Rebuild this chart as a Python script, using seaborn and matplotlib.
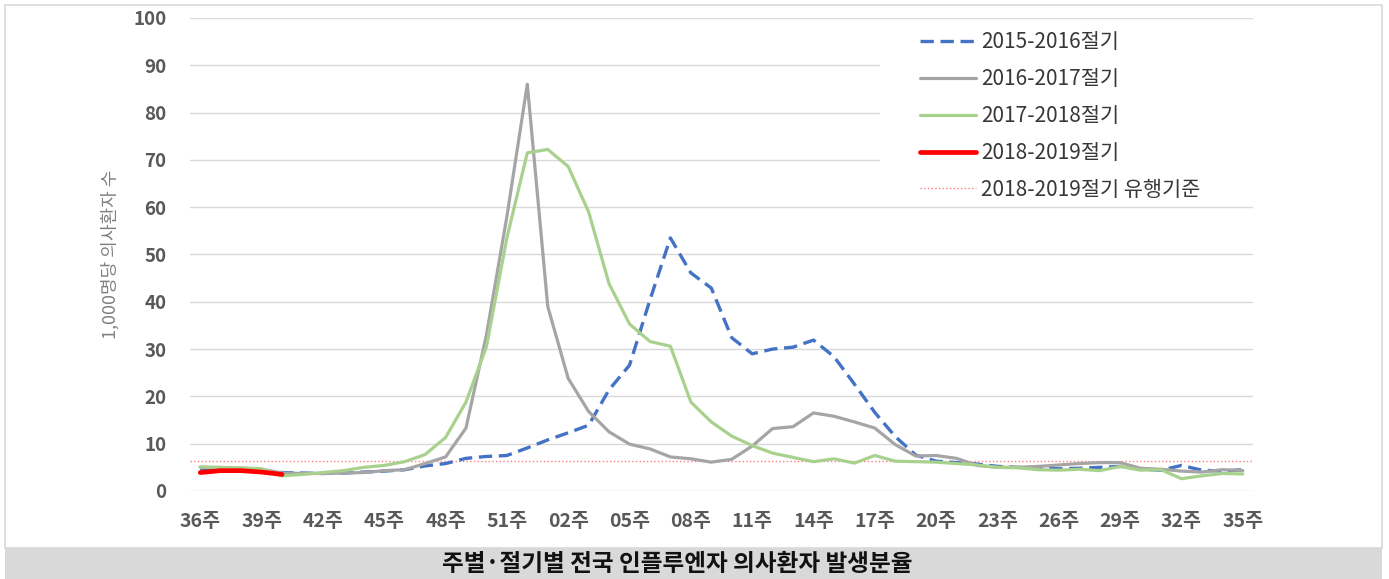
import numpy as np
import pandas as pd
import matplotlib
matplotlib.use('Agg')
import matplotlib.pyplot as plt
import seaborn as sns
from matplotlib.patches import Rectangle

# week labels: 36주 ... 52주, 01주 ... 35주
weeks = [f'{w:02d}주' for w in list(range(36, 53)) + list(range(1, 36))]

# 1,000명당 의사환자 수
s2015_2016 = [4.6, 4.5, 4.3, 4.1, 3.9, 3.8, 3.7, 3.8, 4.0, 4.2, 4.5, 5.3, 5.8, 6.9, 7.3, 7.5, 9.1,
              10.8, 12.3, 13.9, 21.4, 26.6, 40.4, 53.5, 46.1, 42.9, 32.4, 29.0, 30.0, 30.4, 31.9,
              28.4, 22.6, 16.6, 11.5, 7.6, 6.3, 6.0, 5.7, 5.2, 5.0, 4.8, 4.7, 4.8, 5.0, 5.2, 4.6,
              4.4, 5.4, 4.4, 4.2, 4.5]
s2016_2017 = [5.0, 4.9, 4.8, 4.6, 3.8, 3.7, 3.7, 3.8, 3.9, 4.3, 4.5, 5.8, 7.2, 13.3, 33.0, 58.0, 86.0,
              39.0, 23.8, 16.8, 12.5, 9.9, 8.9, 7.2, 6.8, 6.1, 6.7, 9.5, 13.2, 13.6, 16.5,
              15.8, 14.6, 13.3, 9.8, 7.4, 7.5, 6.9, 5.4, 5.0, 5.0, 5.2, 5.5, 5.8, 6.0, 6.0, 4.8,
              4.6, 4.2, 4.0, 4.5, 4.3]
s2017_2018 = [5.1, 5.0, 4.9, 4.7, 3.2, 3.5, 3.9, 4.3, 5.0, 5.4, 6.2, 7.7, 11.3, 18.8, 30.5, 53.5, 71.5,
              72.2, 68.6, 59.0, 43.8, 35.3, 31.6, 30.6, 18.8, 14.6, 11.6, 9.6, 8.0, 7.1, 6.2,
              6.8, 5.9, 7.5, 6.3, 6.2, 6.1, 5.8, 5.5, 5.0, 4.9, 4.5, 4.4, 4.6, 4.3, 5.2, 4.4,
              4.5, 2.6, 3.2, 3.7, 3.6]
s2018_2019 = [3.9, 4.3, 4.3, 4.0, 3.5]
threshold = 6.3

labels = ['2015-2016절기', '2016-2017절기', '2017-2018절기', '2018-2019절기', '2018-2019절기 유행기준']
caption = '주별·절기별 전국 인플루엔자 의사환자 발생분율'

idx = np.arange(len(weeks))

sns.set_style('white')
plt.rcParams['font.family'] = ['Noto Sans CJK KR', 'DejaVu Sans']

fig = plt.figure(figsize=(13.89, 5.79), dpi=100)
ax = fig.add_axes([0.1368, 0.152, 0.7653, 0.817])

# outer frame and caption band
fig.patches.append(Rectangle((5 / 1389, 31 / 579), 1377 / 1389, 543 / 579, transform=fig.transFigure,
                             fill=False, edgecolor='#d9d9d9', lw=1.2))
fig.patches.append(Rectangle((5 / 1389, 0), 1377 / 1389, 31 / 579, transform=fig.transFigure,
                             facecolor='#d9d9d9', edgecolor='none'))
fig.text(677 / 1389, 15 / 579, caption, ha='center', va='center', fontsize=17,
         fontweight='bold', color='#111111')

sns.lineplot(x=idx, y=s2015_2016, ax=ax, color='#4472c4', lw=2.4, linestyle=(0, (4, 2)),
             label=labels[0], zorder=3)
sns.lineplot(x=idx, y=s2016_2017, ax=ax, color='#a5a5a5', lw=2.3, label=labels[1], zorder=3)
sns.lineplot(x=idx, y=s2017_2018, ax=ax, color='#a9d18e', lw=2.3, label=labels[2], zorder=3)
sns.lineplot(x=idx[:len(s2018_2019)], y=s2018_2019, ax=ax, color='#ff0000', lw=3.4,
             label=labels[3], zorder=4)
ax.axhline(threshold, color='#ff7c80', lw=1, linestyle=':', label=labels[4], zorder=2)

ax.set_xlim(-0.5, len(weeks) - 0.5)
ax.set_ylim(0, 100)
ax.set_xticks(idx[::3])
ax.set_xticklabels(weeks[::3])
ax.set_yticks(range(0, 101, 10))
ax.set_axisbelow(True)
ax.yaxis.grid(True, color='#d9d9d9', lw=1)
ax.xaxis.grid(False)
for s in ax.spines.values():
    s.set_visible(False)
ax.tick_params(axis='both', length=0, colors='#595959')
ax.tick_params(axis='y', pad=17, labelsize=13.5)
ax.tick_params(axis='x', pad=15, labelsize=14)
for t in ax.get_xticklabels() + ax.get_yticklabels():
    t.set_fontweight('bold')
ax.set_xlabel('')
ax.set_ylabel('1,000명당 의사환자 수', fontsize=13, color='#808080', labelpad=10)

# white area behind the legend
ax.add_patch(Rectangle((0.649, 0.62), 0.351, 0.365, transform=ax.transAxes,
                       facecolor='white', edgecolor='none', zorder=1.5))
ax.legend(loc='upper left', bbox_to_anchor=(920 / 1389, 1 - 31.5 / 579), bbox_transform=fig.transFigure,
          frameon=False, fontsize=15, handlelength=2.7, handletextpad=0.25, labelspacing=0.71,
          borderpad=0, borderaxespad=0, labelcolor='#383838')

fig.savefig('out.png', dpi=100)
